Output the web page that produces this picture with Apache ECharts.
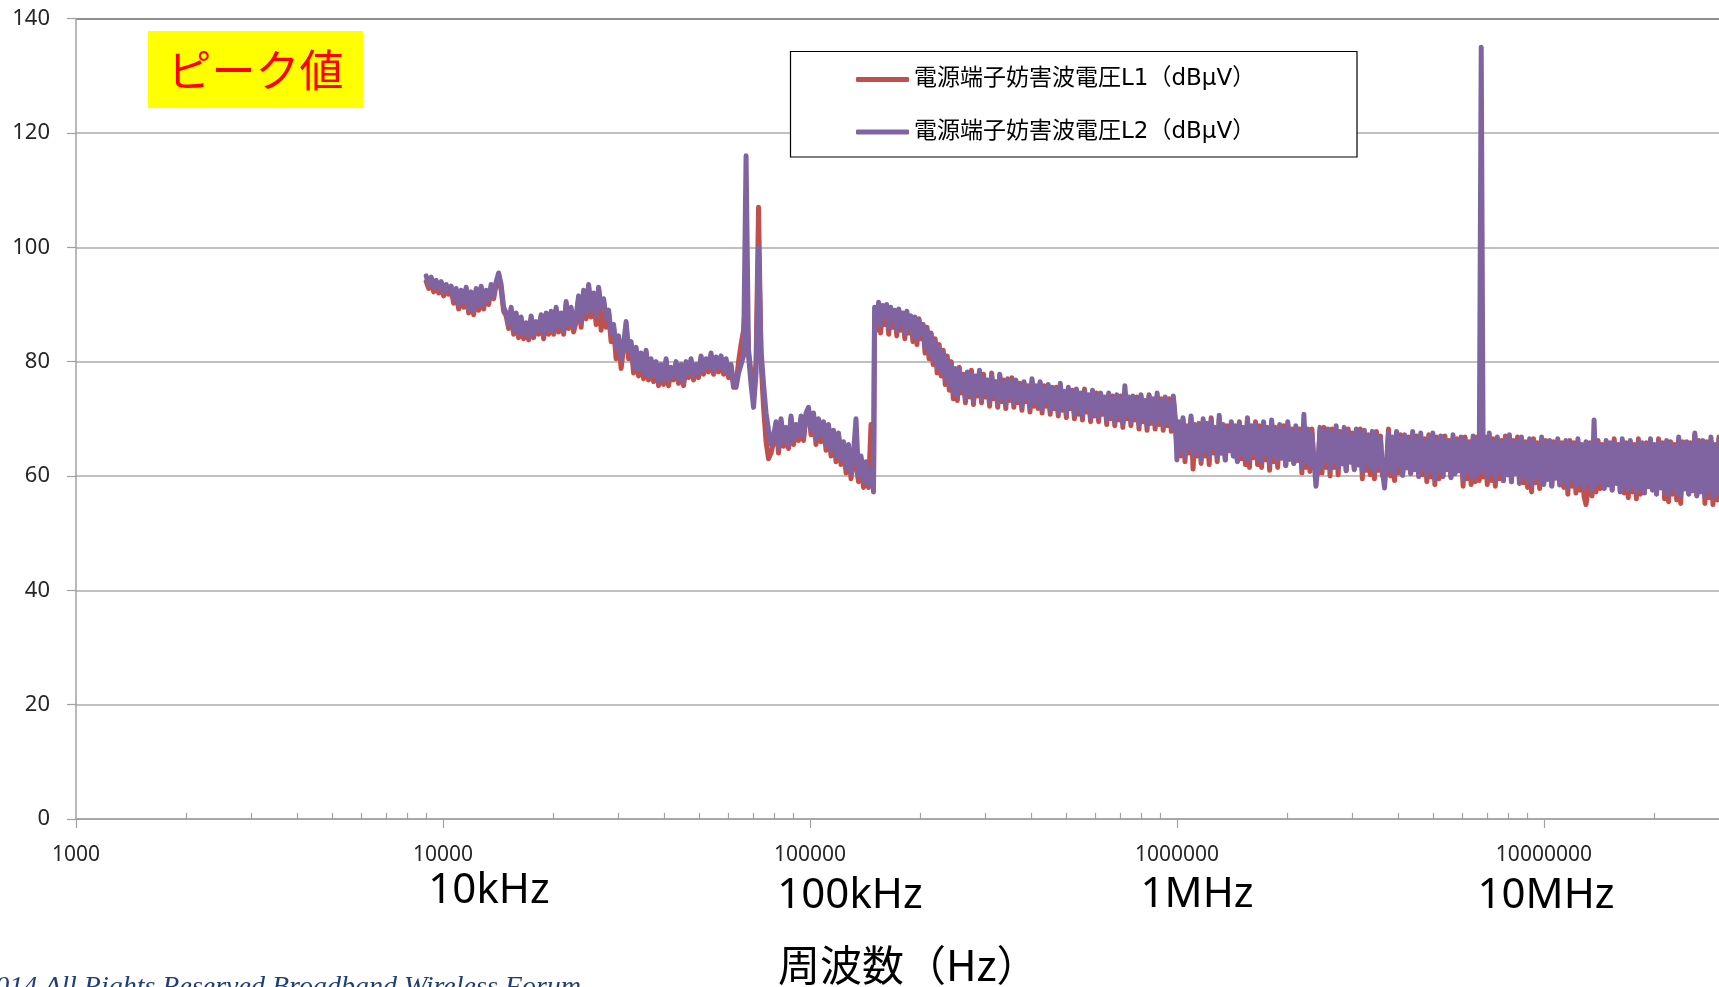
<!DOCTYPE html>
<html lang="ja">
<head>
<meta charset="utf-8">
<title>電源端子妨害波電圧 ピーク値</title>
<script src="https://cdn.jsdelivr.net/npm/echarts@6/dist/echarts.min.js"></script>
<style>
  html, body { margin: 0; padding: 0; background: #ffffff; }
  #chart { width: 1719px; height: 987px; }
</style>
</head>
<body>
<div id="chart"></div>
<script>
// Sweep bands (Hz): 9 kHz–150 kHz, 150 kHz–1 MHz, 1 MHz–30 MHz
const sweepBands = [[9000, 149000], [150000, 990000], [1000000, 30000000]];

// L1 readings (dBµV), one array per sweep band
const l1Band1 = [
  94, 92.8, 94, 92.2, 93.5, 92, 93.2, 91.5, 92.8, 91.8,
  92.5, 90.2, 92.2, 89.2, 92, 89.5, 92.5, 88.5, 91.8, 88.2,
  92.2, 89, 92.8, 89.2, 92, 90, 93, 91, 93.5, 94.5,
  92.5, 88.8, 88, 85.8, 89, 84.8, 88, 84.2, 87.2, 84,
  86.2, 83.8, 87.5, 84.2, 86.5, 84.8, 87.8, 84, 88, 84.8,
  88.2, 84.8, 89, 85.2, 88, 84.8, 90, 85.8, 89, 85.2,
  87, 91, 86, 92, 87.5, 93, 87.8, 91.5, 86.5, 92.5,
  85.5, 90.5, 86, 88.5, 83.5, 85.8, 80.5, 84, 78.8, 82.5,
  86, 80.5, 83, 78, 82, 77.5, 81, 77, 81.5, 76.8,
  80, 76.5, 79.5, 75.8, 79, 76, 80, 75.8, 78.5, 76.8,
  79.5, 76.2, 79, 75.8, 79.5, 77.2, 80, 76.8, 79, 77.2,
  80.5, 77.8, 80, 78.2, 81, 77.8, 80.2, 78.2, 80.5, 77.8,
  80, 77.2, 79, 75.5, 76, 80, 83, 85.5, 92, 82,
  78, 74, 80, 107, 80, 72, 66, 63, 64, 66,
  69, 64, 69.5, 65.2, 68, 64.8, 70, 65.5, 68.5, 66.2,
  70, 66.2, 70.5, 71.5, 67.2, 70.5, 65.5, 69.5, 66, 69,
  64.5, 68.5, 63.5, 67.5, 62.5, 67, 62, 65.5, 60.5, 65,
  59.5, 63.5, 62, 59, 63, 58, 62, 58, 69, 57.2];
const l1Band2 = [
  88, 85.5, 89.5, 85, 89, 86.5, 89.5, 84.8, 88.8, 86,
  88.5, 84.5, 88.5, 85.5, 88, 84, 88.2, 85, 87.5, 83.5,
  87.5, 83, 87.5, 84, 86.5, 81.5, 86, 80.5, 85, 79.5,
  84, 78, 83, 77.5, 82, 76, 81, 75, 80, 73.5,
  78.5, 73.2, 79, 74.5, 77.8, 72.8, 78, 73.8, 78.5, 72.5,
  77.2, 74, 78, 72.8, 77.8, 73.8, 76.5, 72.2, 78, 73.5,
  76.2, 72, 77.5, 73, 76.8, 71.8, 76.8, 73.2, 77.2, 72,
  76.5, 72.8, 76.2, 71.5, 76.2, 73, 75.8, 71.2, 76.5, 72.2,
  75.5, 71.8, 76.2, 71, 75.8, 72.2, 75.8, 70.8, 75.2, 71.8,
  75.5, 70.5, 75.8, 71.5, 74.5, 70.2, 75.2, 71.8, 75, 70,
  74.8, 70.8, 74.2, 69.8, 75.2, 71.2, 74, 69.5, 74.5, 70.5,
  74.5, 69.5, 74.2, 70.8, 73.5, 69, 74.2, 70, 74, 68.8,
  73.8, 69.8, 74, 68.5, 74.5, 70, 73.5, 68.8, 73.8, 69.8,
  73.8, 68.2, 73.8, 69.5, 73, 68, 74.2, 69.2, 73.2, 68.2,
  74, 69, 73.5, 68, 73.5, 68.8, 73.5, 67.8, 73.5, 69];
const l1Band3 = [65,
  69, 63.5, 69.8, 62.5, 68.8, 64, 70, 61.2, 68.5, 63.5,
  69.2, 62.2, 69.5, 63.5, 68.8, 62, 70.2, 64, 68.2, 62.5,
  70, 64, 68.5, 62.8, 68.8, 64.4, 69, 63.5, 68.2, 62.6,
  69.5, 63, 68, 62, 69.8, 61.5, 68.2, 63.2, 69.5, 62,
  68.8, 61.5, 69, 62.8, 68, 61, 69.2, 62.5, 68.5, 61.5,
  68.5, 63.1, 68.8, 61.9, 69, 62.9, 68.2, 62.2, 68.2, 62.7,
  68.2, 60.5, 69, 61.5, 67.8, 60.8, 68.2, 61.5, 61, 60.5,
  68, 60.5, 68.5, 61.5, 67.5, 60, 68.2, 61.5, 68, 60.2,
  67.8, 62.1, 68, 60.9, 68.2, 62.4, 67.5, 61.1, 67.5, 61.9,
  68.2, 59.5, 67.5, 61, 67.2, 60.2, 67.2, 59.5, 67.8, 61,
  67, 60, 60.5, 61.2, 68.2, 60, 66.5, 59.2, 67.2, 60.5,
  67.2, 60.1, 66.8, 61.4, 66.8, 60.4, 67.2, 61.1, 67, 59.9,
  66.8, 60.2, 66.5, 59, 67.2, 59.8, 66.8, 58.5, 66.8, 59.5,
  66.5, 59.9, 67, 61.1, 66.2, 59.7, 66.5, 60.4, 66.5, 60.9,
  66.2, 58.2, 66.8, 59.5, 66, 58.5, 66.5, 59, 66.8, 59.2,
  66,
  59.8, 66.8, 58.5, 66.8, 59.2, 66.5, 58.2, 66.2, 59.5, 66.2,
  59.2, 67, 60.2, 66.5, 59, 66.2, 60.4, 66.8, 58.7, 66.2,
  58.8, 66, 58, 66, 57.2, 66.5, 58.8, 65.8, 57.8, 66.2,
  58.6, 66.2, 59.4, 65.8, 58.3, 66, 59.6, 66, 58.4, 65.8,
  58, 65.8, 56.8, 66.2, 58.2, 65.8, 57, 66, 57.5, 65.2,
  56.5, 55, 57.5, 65.8, 56.5, 66, 57.2, 66.2, 57.8, 65.5,
  57.9, 65.8, 58.4, 65.8, 57.6, 66.5, 58.7, 65.5, 57.3, 66,
  57, 65.8, 56.2, 65.8, 57.2, 65.5, 56, 66.5, 56.8, 65.2,
  57.1, 65.8, 58.1, 66, 57.6, 65.2, 56.9, 66.5, 57.9, 65.8,
  56, 65.8, 55.5, 66, 56.8, 65.5, 55.8, 66.2, 55.2, 66,
  57.7, 65.5, 56.9, 65.8, 57.4, 67.2, 56.6, 66.2, 57.3, 65.8,
  55.2, 66, 56.2, 66.2, 55, 65.5, 55.8, 66.8];

// L2 readings (dBµV), one array per sweep band
const l2Band1 = [
  95, 93.5, 94.8, 93, 94.2, 92.8, 94, 92.2, 93.5, 92.5,
  93.2, 91, 92.8, 90, 92.5, 90.5, 93, 89.2, 92.2, 89,
  92.8, 89.8, 93.2, 90, 92.5, 90.8, 93.5, 91.5, 94, 95.5,
  93.5, 89.5, 88.5, 86.5, 89.5, 85.5, 88.5, 85, 87.8, 84.8,
  86.8, 84.5, 88, 84.8, 87, 85.5, 88.2, 84.8, 88.5, 85.5,
  88.8, 85.5, 89.5, 86, 88.5, 85.5, 90.5, 86.5, 89.5, 86,
  88, 91.5, 87, 92.5, 88.5, 93.5, 89, 92, 88, 93,
  89.5, 91, 87.5, 89, 85, 86.5, 82.5, 84.5, 80.5, 83,
  87, 82, 83.5, 79, 82.5, 78.5, 81.5, 78, 82, 77.5,
  80.5, 77.5, 80, 76.5, 79.5, 77, 80.5, 76.8, 79, 77.5,
  80, 77, 79.5, 76.5, 80, 78, 80.5, 77.5, 79.5, 78,
  81, 78.5, 80.5, 79, 81.5, 78.5, 80.8, 79, 81, 78.5,
  80.5, 78, 79.5, 76, 75.5, 78, 79.5, 81, 116, 81,
  76, 72, 78, 100, 82, 76, 71, 68, 65.5, 67,
  69.5, 65, 70, 66, 68.5, 65.5, 70.5, 66.5, 69, 67,
  70.5, 67, 71, 72, 68, 71, 66.5, 70, 67, 69.5,
  65.5, 69, 64.5, 68, 63.5, 67.5, 63, 66, 61.5, 65.5,
  60.5, 64, 70, 60, 63.5, 59, 62.5, 58.5, 61, 57.5];
const l2Band2 = [
  89.5, 87, 90.4, 86.5, 89.8, 88, 90, 86, 89.5, 87.5,
  89, 85.5, 89.2, 86.8, 88.5, 85, 88.8, 86, 88, 84.5,
  87.8, 84, 87.2, 85, 86.5, 82.5, 85.5, 81.5, 84.8, 80.5,
  83.5, 79, 82.5, 78.5, 81.5, 77, 80.5, 76, 79.5, 74.5,
  78.8, 74, 78.5, 75.5, 77.5, 73.5, 78.2, 74.5, 77.8, 73.2,
  77.5, 74.8, 78.5, 73.5, 77.2, 74.5, 76.8, 73, 77.5, 74.2,
  76.5, 72.8, 77.8, 73.8, 76.2, 72.5, 77, 74, 76.5, 72.8,
  76.8, 73.5, 75.8, 72.2, 76.5, 73.8, 75.5, 72, 77, 73,
  75.8, 72.5, 76.5, 71.8, 75.2, 73, 76, 71.5, 75.5, 72.5,
  75, 71.2, 76.2, 72.2, 74.8, 71, 75.5, 72.5, 74.5, 70.8,
  75.2, 71.5, 74.5, 70.5, 74.8, 72, 74.2, 70.2, 75, 71.2,
  74, 70.2, 74.5, 71.5, 73.8, 69.8, 74.5, 70.8, 73.5, 69.5,
  74.2, 70.5, 73.5, 69.2, 75.8, 70.8, 73.8, 69.5, 74, 70.5,
  73.5, 69, 74.2, 70.2, 73.2, 68.8, 74, 70, 73.5, 69,
  74.5, 69.8, 73, 68.8, 73.8, 69.5, 72.8, 68.5, 74, 70];
const l2Band3 = [62.8,
  69.5, 64.5, 70.2, 63.5, 68.5, 65, 70.5, 63.8, 69, 64.2,
  68.8, 63, 70, 64.5, 69.2, 63.5, 69.8, 65, 68.5, 63.2,
  70.6, 64, 69, 62.8, 68.2, 64.5, 69.5, 63.5, 68.8, 62.5,
  69.2, 64, 68.5, 63, 70.2, 62.8, 68.8, 64.2, 69, 63,
  68.2, 62.5, 69.5, 63.8, 68.5, 62.2, 69.8, 63.5, 68, 62.8,
  69, 63.2, 68.2, 61.8, 69.5, 63, 67.8, 62.2, 68.8, 62.8,
  67.5, 61.5, 70.8, 62.5, 68.2, 61.8, 67.5, 62.8, 58.2, 62,
  68.5, 61.5, 67.8, 62.8, 68.2, 61.2, 67.5, 62.5, 68.8, 61.5,
  67.2, 62.2, 68.5, 61, 67.8, 62.5, 67, 61.2, 68.2, 62,
  67.5, 60.8, 68, 62.2, 66.8, 61.5, 67.8, 60.8, 67.2, 62,
  66.5, 61, 57.9, 62.5, 67.5, 61, 66.8, 60.5, 67.8, 61.8,
  66.5, 60.2, 67.2, 61.5, 66.2, 60.5, 67.8, 61.2, 66.5, 60,
  67.5, 61.5, 66, 60.2, 66.8, 61, 67.5, 59.5, 66.2, 60.8,
  67, 60, 66.5, 61.2, 65.8, 59.8, 67.2, 60.5, 66, 61,
  66.8, 59.5, 66.2, 60.8, 65.5, 59.8, 67, 60.2, 66.2, 60.5,
  135,
  61, 66.5, 59.8, 67.5, 60.5, 66, 59.5, 66.8, 60.8, 65.8,
  59.2, 66.5, 60.2, 67.2, 59, 65.8, 60.5, 66.2, 58.8, 66.8,
  60, 65.5, 59.2, 66.5, 58.5, 66, 60, 65.2, 59, 66.8,
  58.5, 65.8, 59.5, 66.2, 58.2, 65.5, 59.8, 66.5, 58.5, 65.2,
  59.2, 66.2, 58, 65.8, 59.5, 65.2, 58.2, 66.5, 58.8, 65.5,
  57.8, 66, 58.8, 65.5, 57.5, 69.8, 58.5, 65.8, 59, 65.2,
  57.8, 66.2, 58.5, 65.5, 57.5, 66, 58.8, 65.2, 57.2, 66.5,
  58.2, 65.5, 57.5, 66.2, 58.5, 65, 57.2, 66, 58, 65.8,
  57, 65.2, 58.2, 66.5, 57.5, 65.5, 56.8, 66, 58, 65.2,
  57.2, 66.2, 56.8, 65.5, 58, 65, 57, 66.8, 56.5, 65.5,
  57.8, 66, 56.8, 65.2, 57.5, 67.5, 56.5, 65.8, 57.2, 66.2,
  56.5, 65.5, 57.5, 66.8, 56.2, 65.2, 57, 66.5];

// Axis ticks and labels
const decadeTicks = [1000, 10000, 100000, 1000000, 10000000];
const minorTicks = [2000, 3000, 4000, 5000, 6000, 7000, 8000, 9000,
  20000, 30000, 40000, 50000, 60000, 70000, 80000, 90000,
  200000, 300000, 400000, 500000, 600000, 700000, 800000, 900000,
  2000000, 3000000, 4000000, 5000000, 6000000, 7000000, 8000000, 9000000,
  20000000];
const unitLabels = ['10kHz', '100kHz', '1MHz', '10MHz'];
const seriesNames = ['電源端子妨害波電圧L1（dBµV）', '電源端子妨害波電圧L2（dBµV）'];

// Each band's readings sit on evenly spaced log-frequency sweep points
function sweep(band, readings) {
  const f0 = band[0], f1 = band[1], n = readings.length;
  return readings.map((v, i) => [f0 * Math.pow(f1 / f0, i / (n - 1)), v]);
}
const l1Data = [].concat(sweep(sweepBands[0], l1Band1), sweep(sweepBands[1], l1Band2), sweep(sweepBands[2], l1Band3));
const l2Data = [].concat(sweep(sweepBands[0], l2Band1), sweep(sweepBands[1], l2Band2), sweep(sweepBands[2], l2Band3));

const chart = echarts.init(document.getElementById('chart'), null, { renderer: 'canvas' });

const gridColor = '#ABABAB';
const axisFont = '"Noto Sans", "Liberation Sans", sans-serif';
const cjkFont = '"Noto Sans CJK JP", "Noto Sans", sans-serif';
const legendFont = '"DejaVu Sans", "Noto Sans CJK JP", sans-serif';

const unitLabelPos = [[489, 891], [850, 896], [1197, 895], [1546, 896]];

const option = {
  animation: false,
  backgroundColor: '#ffffff',
  grid: { left: 76, top: 18.6, right: -10.4, bottom: 168, containLabel: false },
  legend: {
    data: seriesNames,
    orient: 'vertical',
    left: 856,
    top: 68,
    padding: 0,
    itemGap: 29.5,
    itemWidth: 53,
    itemHeight: 5,
    icon: 'roundRect',
    selectedMode: false,
    textStyle: { fontSize: 23, lineHeight: 23, fontFamily: legendFont, color: '#000000' },
    z: 5
  },
  xAxis: [{
    type: 'log',
    logBase: 10,
    min: 1000,
    max: 30000000,
    axisLine: { show: true, lineStyle: { color: '#A0A0A0', width: 1.5 } },
    axisTick: { show: true, inside: false, length: 9, customValues: decadeTicks, lineStyle: { color: '#A0A0A0', width: 1.2 } },
    minorTick: { show: false },
    splitLine: { show: false },
    axisLabel: {
      customValues: decadeTicks,
      margin: 26,
      fontSize: 21,
      fontFamily: axisFont,
      color: '#262626',
      formatter: v => String(Math.round(v))
    }
  }, {
    type: 'log',
    logBase: 10,
    min: 1000,
    max: 30000000,
    position: 'bottom',
    axisLine: { show: false },
    axisTick: { show: true, inside: true, length: 6, customValues: minorTicks, lineStyle: { color: '#A0A0A0', width: 1.2 } },
    axisLabel: { show: false },
    splitLine: { show: false }
  }],
  yAxis: {
    type: 'value',
    min: 0,
    max: 140,
    interval: 20,
    axisLine: { show: true, lineStyle: { color: '#A0A0A0', width: 1.5 } },
    axisTick: { show: true, inside: false, length: 9, lineStyle: { color: '#A0A0A0', width: 1.2 } },
    splitLine: {
      show: true,
      lineStyle: {
        color: [gridColor, gridColor, gridColor, gridColor, gridColor, gridColor, gridColor, '#6A6A6A'],
        width: 1.5
      }
    },
    axisLabel: { margin: 26, fontSize: 22, fontFamily: axisFont, color: '#262626' }
  },
  series: [{
    name: seriesNames[0],
    type: 'line',
    data: l1Data,
    showSymbol: false,
    symbol: 'none',
    sampling: null,
    color: '#C0504D',
    lineStyle: { color: '#C0504D', width: 5, cap: 'round', join: 'round' },
    z: 2
  }, {
    name: seriesNames[1],
    type: 'line',
    data: l2Data,
    showSymbol: false,
    symbol: 'none',
    sampling: null,
    color: '#8064A2',
    lineStyle: { color: '#8064A2', width: 5, cap: 'round', join: 'round' },
    z: 3
  }],
  graphic: [
    // "Peak" badge
    { type: 'rect', z: 10, shape: { x: 148, y: 31, width: 215, height: 77 }, style: { fill: '#FFFF00' } },
    { type: 'text', z: 11, x: 255.5, y: 70,
      style: { text: 'ピーク値', fill: '#FF0000', font: '44px ' + cjkFont, align: 'center', verticalAlign: 'middle' } },
    // Legend frame
    { type: 'rect', z: 4, shape: { x: 790.5, y: 51.5, width: 566.5, height: 105.5 },
      style: { fill: '#ffffff', stroke: '#000000', lineWidth: 1.2 } },
    // Frequency unit labels under the decade ticks
    ...unitLabels.map((t, i) => ({
      type: 'text', z: 10, x: unitLabelPos[i][0], y: unitLabelPos[i][1],
      style: { text: t, fill: '#000000', font: '42px ' + axisFont, align: 'center', verticalAlign: 'middle' }
    })),
    // Axis title
    { type: 'text', z: 10, x: 778, y: 965,
      style: { text: '周波数（Hz）', fill: '#000000', font: '42px ' + cjkFont, align: 'left', verticalAlign: 'middle' } },
    // Footer
    { type: 'text', z: 10, x: 581, y: 974,
      style: { text: '©2014 All Rights Reserved Broadband Wireless Forum', fill: '#1F3F7A',
        font: 'italic 28px "Liberation Serif", "DejaVu Serif", serif', align: 'right', verticalAlign: 'top' } }
  ]
};

chart.setOption(option);
</script>
</body>
</html>
